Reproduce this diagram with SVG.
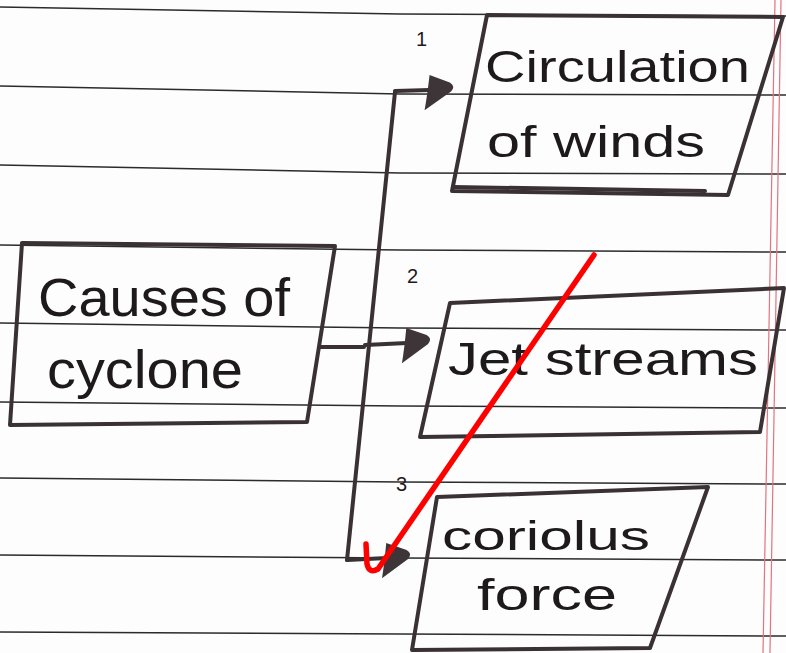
<svg xmlns="http://www.w3.org/2000/svg" width="786" height="653" viewBox="0 0 786 653">
<defs>
<style>
.rule{fill:none;stroke:#2b2b2b;stroke-width:1.5}
.margin{stroke:#e2737f;stroke-width:1.2}
.box{fill:none;stroke:#3a3135;stroke-width:4;stroke-linejoin:round;stroke-linecap:round}
.hand{font-family:"Liberation Sans","DejaVu Sans",sans-serif;fill:#1e1a1c}
.num{font-family:"Liberation Sans","DejaVu Sans",sans-serif;fill:#1e1a1c;font-size:20px}
.conn{fill:none;stroke:#3a3135;stroke-width:4;stroke-linecap:round;stroke-linejoin:round}
.tick{fill:none;stroke:#ff0000;stroke-width:5.5;stroke-linecap:round;stroke-linejoin:round}
</style>
<marker id="blob" markerUnits="userSpaceOnUse" markerWidth="40" markerHeight="44" refX="0" refY="0" orient="auto" viewBox="-8 -22 40 44" overflow="visible">
<path d="M0,-15 L20,-7 Q26,-3 21,2 L-6,20 Q-3,6 0,-15 Z" fill="#3e3539"/>
</marker>
</defs>
<rect width="786" height="653" fill="#fdfdfd"/>
<g id="paper">
<path class="rule" d="M0,7 L400,14 L786,16"/>
<path class="rule" d="M0,86 L400,94 L786,95"/>
<path class="rule" d="M0,165 L400,173 L786,174"/>
<path class="rule" d="M0,245 L400,250 L786,252"/>
<path class="rule" d="M0,323 L400,328 L786,330"/>
<path class="rule" d="M0,402 L400,406 L786,408"/>
<path class="rule" d="M0,478 L400,482 L786,484"/>
<path class="rule" d="M0,555 L400,558 L786,560"/>
<path class="rule" d="M0,632 L400,634 L786,636"/>
<line class="margin" x1="775" y1="0" x2="763" y2="653"/>
<line class="margin" x1="781" y1="0" x2="770" y2="653"/>
</g>
<g id="connectors">
<path class="conn" d="M320,347 L364,347"/>
<path class="conn" d="M395,92 L347,560"/>
<path class="conn" d="M395,91 L430,90" marker-end="url(#blob)"/>
<path class="conn" d="M365,345 L407,343" marker-end="url(#blob)"/>
<path class="conn" d="M347,560 L387,558" marker-end="url(#blob)"/>
<text class="num" x="416" y="46">1</text>
<text class="num" x="407" y="283" font-size="18">2</text>
<text class="num" x="396" y="491" font-size="18">3</text>
</g>
<g id="node-causes">
<polygon class="box" points="22,243 335,246 307,422 10,425" stroke-width="5"/>
<text class="hand" x="38" y="316" font-size="54" textLength="252" lengthAdjust="spacingAndGlyphs">Causes of</text>
<text class="hand" x="47" y="388" font-size="54" textLength="196" lengthAdjust="spacingAndGlyphs">cyclone</text>
</g>
<g id="node-circulation">
<polygon class="box" points="487,15 783,17 728,195 452,191"/>
<path class="box" d="M453,187 L705,191" stroke-width="5"/>
<text class="hand" x="485" y="82" font-size="44" textLength="265" lengthAdjust="spacingAndGlyphs">Circulation</text>
<text class="hand" x="487" y="157" font-size="44" textLength="218" lengthAdjust="spacingAndGlyphs">of winds</text>
</g>
<g id="node-jet">
<polygon class="box" points="450,303 784,288 760,432 420,437"/>
<text class="hand" x="448" y="375" font-size="46" textLength="310" lengthAdjust="spacingAndGlyphs">Jet streams</text>
</g>
<g id="node-coriolus">
<polygon class="box" points="437,497 708,487 650,648 412,650"/>
<text class="hand" x="442" y="550" font-size="40" textLength="208" lengthAdjust="spacingAndGlyphs">coriolus</text>
<text class="hand" x="477" y="610" font-size="44" textLength="140" lengthAdjust="spacingAndGlyphs">force</text>
</g>
<g id="check">
<path class="tick" d="M366,544 L367,564 Q369,574 378,569 L594,255"/>
</g>
</svg>
